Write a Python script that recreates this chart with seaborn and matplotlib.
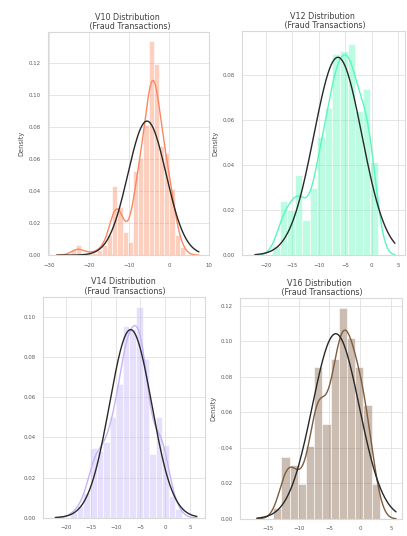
import numpy as np
import matplotlib
matplotlib.use("Agg")
import matplotlib.pyplot as plt
from matplotlib.ticker import MultipleLocator
import seaborn as sns

# Fraud transactions, 492 rows. Histogram:
# first bin edge, bin width and bar height (density) per bin
n_fraud = 492

v10_start, v10_width = -24.59, 1.30
v10_dens = [0.003, 0.0065, 0.002, 0.0015, 0.0015, 0.003, 0.006, 0.012, 0.042, 0.029, 0.0145,
            0.008, 0.052, 0.060, 0.080, 0.132, 0.118, 0.067, 0.063, 0.040, 0.012, 0.005]

v12_start, v12_width = -18.85, 1.43
v12_dens = [0.004, 0.024, 0.020, 0.0356, 0.0156, 0.030, 0.052, 0.065, 0.090, 0.091, 0.094,
            0.064, 0.0745, 0.041]

v14_start, v14_width = -19.21, 1.33
v14_dens = [0.003, 0.006, 0.012, 0.035, 0.034, 0.038, 0.050, 0.068, 0.097, 0.0945, 0.105,
            0.080, 0.032, 0.051, 0.036, 0.010, 0.004]

v16_start, v16_width = -14.13, 1.33
v16_dens = [0.006, 0.035, 0.030, 0.020, 0.042, 0.086, 0.054, 0.090, 0.119, 0.102, 0.085,
            0.064, 0.020]

features = ["V10", "V12", "V14", "V16"]
colors = ["#FB8861", "#56F9BB", "#C5B3F9", "#7E5C3E"]
passo_x = [10, 5, 5, 5]


def rebuild(start, width, dens):
    # bin edges and a sample that reproduces the histogram
    edges = start + width * np.arange(len(dens) + 1)
    centers = (edges[:-1] + edges[1:]) / 2
    counts = np.round(np.array(dens) * n_fraud * width).astype(int)
    return edges, np.repeat(centers, counts)


sns.set_style("whitegrid")
plt.rcParams["axes.edgecolor"] = ".85"
plt.rcParams["grid.color"] = ".88"
plt.rcParams["grid.linewidth"] = 0.6

fig = plt.figure(figsize=(4.07, 5.36), dpi=100)
posicoes = [[0.118, 0.524, 0.396, 0.416], [0.595, 0.524, 0.400, 0.418],
            [0.106, 0.034, 0.398, 0.412], [0.590, 0.032, 0.398, 0.412]]
limites_x = [(-30.3, 10.1), (-24.5, 6.3), (-24.7, 8.1), (-19.5, 6.8)]
limites_y = [0.139, 0.0994, 0.110, 0.1245]
dados = [(v10_start, v10_width, v10_dens), (v12_start, v12_width, v12_dens),
         (v14_start, v14_width, v14_dens), (v16_start, v16_width, v16_dens)]

for i, (nome, cor, (ini, larg, dens)) in enumerate(zip(features, colors, dados)):
    ax = fig.add_axes(posicoes[i])
    edges, amostra = rebuild(ini, larg, dens)

    sns.histplot(amostra, bins=edges, stat="density", color=cor, alpha=0.4,
                 edgecolor="white", linewidth=0.4, ax=ax)
    sns.kdeplot(amostra, color=cor, linewidth=1.0, cut=3, ax=ax)

    # normal fit (como distplot(fit=norm))
    mu, sigma = amostra.mean(), amostra.std()
    bw = sigma * len(amostra) ** (-1 / 5)
    xs = np.linspace(amostra.min() - 3 * bw, amostra.max() + 3 * bw, 200)
    pdf = np.exp(-0.5 * ((xs - mu) / sigma) ** 2) / (sigma * np.sqrt(2 * np.pi))
    sns.lineplot(x=xs, y=pdf, color="#282828", linewidth=1.0, ax=ax)

    ax.set_xlim(limites_x[i])
    ax.set_ylim(0, limites_y[i])
    ax.xaxis.set_major_locator(MultipleLocator(passo_x[i]))
    ax.set_title(f"{nome} Distribution \n (Fraud Transactions)", fontsize=5.8, pad=2,
                 color=".25", linespacing=1.1)
    ax.set_xlabel("")
    ax.set_ylabel("" if nome == "V14" else "Density", fontsize=4.8, color=".3", labelpad=3)
    ax.tick_params(labelsize=3.9, colors=".35", pad=2)

fig.savefig("out.png", dpi=100)
